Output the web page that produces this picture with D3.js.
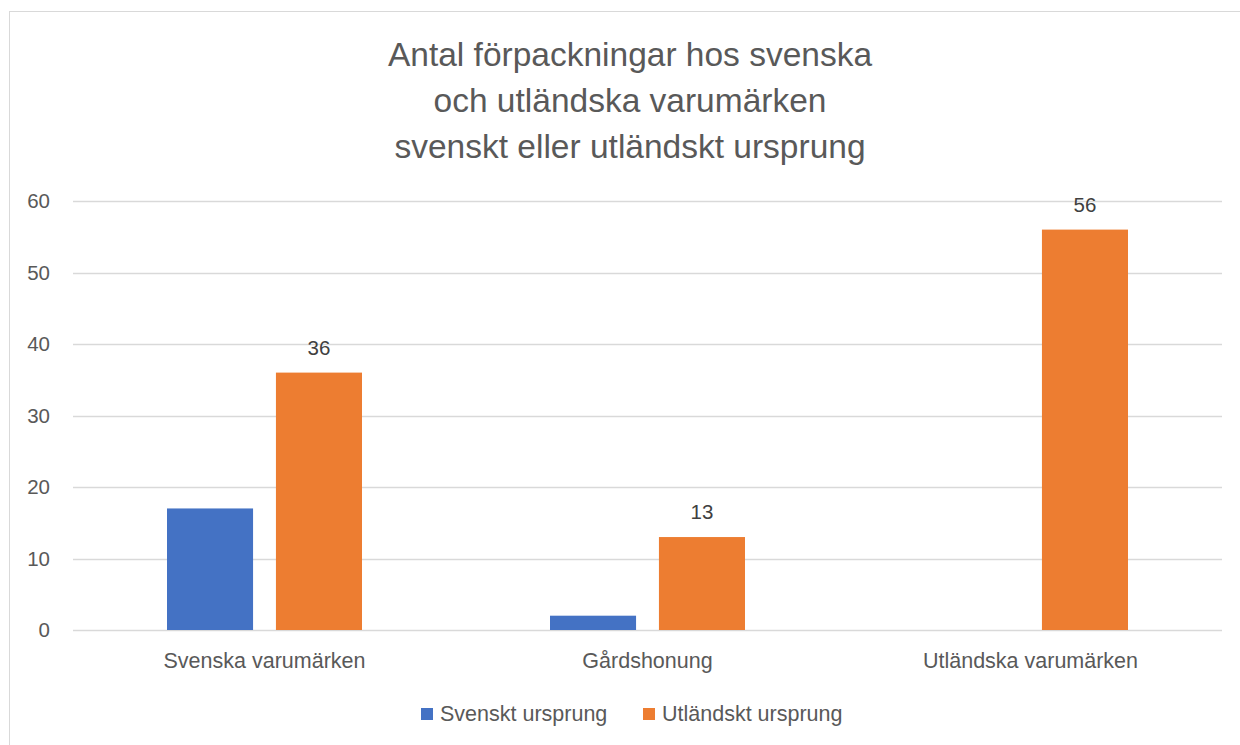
<!DOCTYPE html>
<html>
<head>
<meta charset="utf-8">
<script src="https://cdn.jsdelivr.net/npm/d3@7"></script>
<style>
  body { margin: 0; background: #fff; }
  text { font-family: "Liberation Sans", "DejaVu Sans", sans-serif; fill: #595959; }
</style>
</head>
<body>
<div class="canvas"></div>
<script>
const categories = ['Svenska varumärken', 'Gårdshonung', 'Utländska varumärken']
const seriesNames = ['Svenskt ursprung', 'Utländskt ursprung']
const svenskt = [17, 2, 0]
const utlandskt = [36, 13, 56]
const yTicks = [0, 10, 20, 30, 40, 50, 60]
const titleLines = ['Antal förpackningar hos svenska', 'och utländska varumärken', 'svenskt eller utländskt ursprung']

const colors = ['#4472c4', '#ed7d31']
const dims = { width: 1240, height: 745 }
const plot = { left: 73, right: 1222, top: 201, bottom: 630 }

const svg = d3.select('.canvas')
  .append('svg')
  .attr('width', dims.width)
  .attr('height', dims.height)

// chart border
svg.append('rect')
  .attr('x', 9.5).attr('y', 11.5)
  .attr('width', 1260).attr('height', 760)
  .attr('fill', 'none')
  .attr('stroke', '#d9d9d9')

// title
svg.append('g').selectAll('text')
  .data(titleLines)
  .enter().append('text')
    .attr('x', 630)
    .attr('y', (d, i) => 66 + i * 46)
    .attr('text-anchor', 'middle')
    .attr('font-size', 33.5)
    .text(d => d)

const x = d3.scaleBand()
  .domain(categories)
  .range([plot.left, plot.right])

const xInner = d3.scaleBand()
  .domain(seriesNames)
  .range([94, x.bandwidth() - 94])
  .paddingInner(0.21)

const y = d3.scaleLinear()
  .domain([0, 60])
  .range([plot.bottom, plot.top])

// gridlines
svg.append('g').selectAll('line')
  .data(yTicks)
  .enter().append('line')
    .attr('x1', plot.left).attr('x2', plot.right)
    .attr('y1', d => Math.round(y(d)) + 0.5)
    .attr('y2', d => Math.round(y(d)) + 0.5)
    .attr('stroke', '#d9d9d9')
    .attr('stroke-width', 1.3)

// y tick labels
svg.append('g').selectAll('text')
  .data(yTicks)
  .enter().append('text')
    .attr('x', 50)
    .attr('y', d => y(d) + 7)
    .attr('text-anchor', 'end')
    .attr('font-size', 20.5)
    .text(d => d)

const rows = seriesNames.map((name, s) => ({
  name,
  values: (s === 0 ? svenskt : utlandskt)
}))

const groups = svg.append('g').selectAll('g')
  .data(rows)
  .enter().append('g')
    .attr('fill', (d, i) => colors[i])

groups.selectAll('rect')
  .data(d => d.values.map((v, i) => ({ name: d.name, cat: categories[i], v })))
  .enter().append('rect')
    .attr('x', d => x(d.cat) + xInner(d.name))
    .attr('width', xInner.bandwidth())
    .attr('y', d => y(d.v))
    .attr('height', d => y(0) - y(d.v))

// data labels, only on the orange series
svg.append('g').selectAll('text')
  .data(utlandskt.map((v, i) => ({ v, cat: categories[i] })))
  .enter().append('text')
    .attr('x', d => x(d.cat) + xInner(seriesNames[1]) + xInner.bandwidth() / 2)
    .attr('y', d => y(d.v) - 18)
    .attr('text-anchor', 'middle')
    .attr('font-size', 20.5)
    .style('fill', '#404040')
    .text(d => d.v)

// category labels
svg.append('g').selectAll('text')
  .data(categories)
  .enter().append('text')
    .attr('x', d => x(d) + x.bandwidth() / 2)
    .attr('y', 668)
    .attr('text-anchor', 'middle')
    .attr('font-size', 21.5)
    .text(d => d)

// legend
const legendX = [421, 643]
const legend = svg.append('g').selectAll('g')
  .data(seriesNames)
  .enter().append('g')
    .attr('transform', (d, i) => `translate(${legendX[i]}, 708)`)

legend.append('rect')
  .attr('width', 12).attr('height', 12)
  .attr('fill', (d, i) => colors[i])

legend.append('text')
  .attr('x', 19)
  .attr('y', 13)
  .attr('font-size', 21.5)
  .text(d => d)
</script>
</body>
</html>
